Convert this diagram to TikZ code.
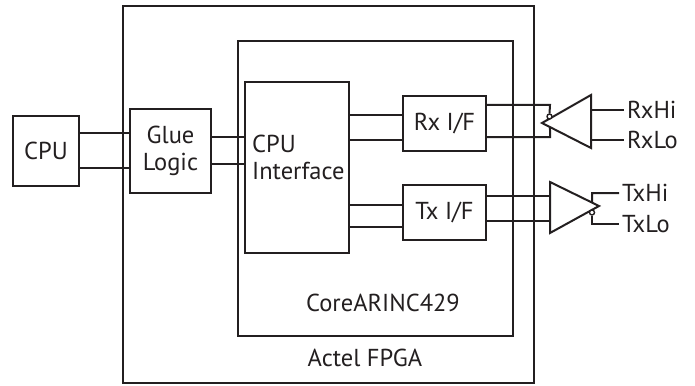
\documentclass[tikz,border=0pt]{standalone}
\usepackage{fontspec}
\setmainfont{PT Sans}
\usepackage{tikz}
\usetikzlibrary{positioning,calc}
\definecolor{ink}{HTML}{231F20}
\tikzstyle{line} = [draw=ink, line width=2pt]
\tikzstyle{block} = [draw=ink, line width=2pt, inner sep=0pt, align=center]
\tikzstyle{lbl} = [text=ink, inner sep=0pt, font=\fontsize{24.5}{27}\selectfont]
\tikzset{bubble/.style={circle, draw=ink, line width=1.4pt, fill=white, minimum size=5pt, inner sep=0pt}}

\begin{document}
\begin{tikzpicture}[x=1pt,y=-1pt]
    \useasboundingbox (0,0) rectangle (695,385);
    % boxes
    \node [block, minimum width=411pt, minimum height=377pt] (fpga) at (328.5,194.5) {};
    \node [block, minimum width=275pt, minimum height=295pt] (core) at (375.5,188.5) {};
    \node [block, minimum width=66pt, minimum height=70pt, lbl] (cpu) at (46,151) {CPU};
    \node [block, minimum width=81pt, minimum height=83pt, lbl] (glue) at (170.5,151) {Glue\\Logic};
    \node [block, minimum width=104pt, minimum height=171pt] (cpuif) at (297,167.5) {};
    \node [lbl, align=left, anchor=west] at (252,157) {CPU\\Interface};
    \node [block, minimum width=83pt, minimum height=55pt, lbl] (rx) at (444.5,123.5) {Rx I/F};
    \node [block, minimum width=83pt, minimum height=55pt, lbl] (tx) at (444.5,212.5) {Tx I/F};
    \node [lbl] (corelbl) at (383,303) {CoreARINC429};
    \node [lbl] (fpgalbl) at (365,358) {Actel FPGA};

    % buses between blocks
    \draw [line] (cpu.east |- 0,133) -- (glue.west |- 0,133);
    \draw [line] (cpu.east |- 0,168) -- (glue.west |- 0,168);
    \draw [line] (glue.east |- 0,137) -- (cpuif.west |- 0,137);
    \draw [line] (glue.east |- 0,164) -- (cpuif.west |- 0,164);
    \draw [line] (cpuif.east |- 0,115) -- (rx.west |- 0,115);
    \draw [line] (cpuif.east |- 0,140) -- (rx.west |- 0,140);
    \draw [line] (cpuif.east |- 0,205) -- (tx.west |- 0,205);
    \draw [line] (cpuif.east |- 0,227) -- (tx.west |- 0,227);

    % receiver
    \coordinate (rtip) at (542,123);
    \coordinate (rtop) at (591,95);
    \coordinate (rbot) at (591,148);
    \draw [line, line join=miter] (rtip) -- (rtop) -- (rbot) -- cycle;
    \node [bubble] (rinv) at (549.5,116.5) {};
    \draw [line] (rx.east |- 0,105) -- (550,105) -- (rinv.north);
    \draw [line] (rx.east |- 0,137) -- (550,137) -- ($(rtip)!0.163!(rbot)$);
    \node [lbl, anchor=west, inner xsep=3pt] (rxhi) at (624,110) {RxHi};
    \node [lbl, anchor=west, inner xsep=3pt] (rxlo) at (624,140) {RxLo};
    \draw [line] (rtop |- rxhi) -- (rxhi.west);
    \draw [line] (rtop |- rxlo) -- (rxlo.west);

    % driver
    \coordinate (ttip) at (599,206);
    \coordinate (ttop) at (550,182);
    \coordinate (tbot) at (550,233);
    \draw [line, line join=miter] (ttip) -- (ttop) -- (tbot) -- cycle;
    \draw [line] (tx.east |- 0,196) -- (ttop |- 0,196);
    \draw [line] (tx.east |- 0,221) -- (tbot |- 0,221);
    \node [bubble] (tinv) at (592,212.5) {};
    \node [lbl, anchor=west, inner xsep=3pt] (txhi) at (619,193) {TxHi};
    \node [lbl, anchor=west, inner xsep=3pt] (txlo) at (619,224) {TxLo};
    \draw [line] ($(ttop)!0.857!(ttip)$) -- (592,193) -- (txhi.west);
    \draw [line] (tinv.south) -- (592,224) -- (txlo.west);
\end{tikzpicture}
\end{document}
